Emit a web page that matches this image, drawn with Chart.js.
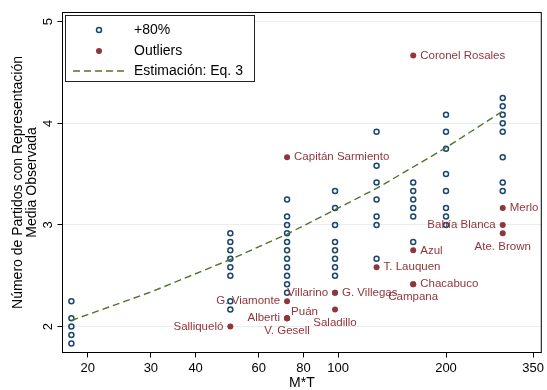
<!DOCTYPE html>
<html>
<head>
<meta charset="utf-8">
<script src="https://cdn.jsdelivr.net/npm/chart.js@4.4.0/dist/chart.umd.min.js"></script>
<style>
  html, body { margin: 0; padding: 0; background: #fff; }
  #wrap { width: 547px; height: 390px; position: relative; }
</style>
</head>
<body>
<div id="wrap"><canvas id="grafico"></canvas></div>
<script>
// valores de M*T (columnas) y N observado de los distritos comunes (+80%)
const mtValues = [18, 50, 72, 98, 128, 162, 200, 288];
const nComunes = [
  [2.25, 2.083, 2.0, 1.917, 1.833],
  [2.917, 2.833, 2.75, 2.667, 2.583, 2.5, 2.25, 2.167],
  [3.25, 3.083, 3.0, 2.917, 2.833, 2.75, 2.667, 2.583, 2.5, 2.417, 2.333],
  [3.333, 3.167, 3.0, 2.833, 2.75, 2.667, 2.583, 2.5],
  [3.917, 3.583, 3.417, 3.25, 3.083, 3.0, 2.667],
  [3.417, 3.333, 3.25, 3.167, 3.083, 2.833],
  [4.083, 3.917, 3.75, 3.5, 3.333, 3.167, 3.083, 3.0],
  [4.25, 4.167, 4.083, 4.0, 3.917, 3.667, 3.417, 3.333]
];

// outliers
const outlierNames = ["Coronel Rosales", "Capitán Sarmiento", "Merlo", "Bahía Blanca", "Ate. Brown",
  "Azul", "T. Lauquen", "Chacabuco", "Campana", "G. Villegas", "Villarino", "G. Viamonte",
  "Alberti", "Puán", "V. Gesell", "Saladillo", "Salliqueló"];
const outlierMT = [162, 72, 288, 288, 288, 162, 128, 162, 162, 98, 98, 72, 72, 72, 72, 98, 50];
const outlierN = [4.667, 3.667, 3.167, 3.0, 2.917, 2.75, 2.583, 2.417, 2.417, 2.333, 2.333, 2.25,
  2.083, 2.083, 2.083, 2.167, 2.0];
// posición de la etiqueta (reloj, como mlabpos de Stata)
const posEtiqueta = [3, 3, 3, 9, 6, 3, 3, 3, 6, 3, 9, 9, 9, 2, 6, 6, 9];

// curva estimada (Eq. 3)
const fitMT = [18, 30, 50, 72, 98, 128, 162, 200, 288];
const fitN = [2.06, 2.34, 2.66, 2.91, 3.15, 3.36, 3.57, 3.76, 4.12];

const xTicks = [20, 30, 40, 60, 80, 100, 200, 350];
const yTicks = [2, 3, 4, 5];

const azul = "#1a476f";
const rojo = "#90353b";
const verde = "#4f742a";
const fuente = '"Liberation Sans", Arial, sans-serif';

const puntosComunes = [];
mtValues.forEach((mt, i) => {
  nComunes[i].forEach(n => puntosComunes.push({ x: mt, y: n }));
});
const puntosOutliers = outlierMT.map((mt, i) => ({ x: mt, y: outlierN[i] }));
const puntosFit = fitMT.map((mt, i) => ({ x: mt, y: fitN[i] }));

const extras = {
  id: "extras",
  afterDatasetsDraw(chart) {
    const ctx = chart.ctx;
    // etiquetas de los outliers
    const meta = chart.getDatasetMeta(1);
    ctx.save();
    ctx.font = "11.5px " + fuente;
    ctx.fillStyle = rojo;
    meta.data.forEach((p, i) => {
      const pos = posEtiqueta[i];
      let x = p.x, y = p.y;
      if (pos == 3) { ctx.textAlign = "left"; ctx.textBaseline = "middle"; x += 7; }
      else if (pos == 9) { ctx.textAlign = "right"; ctx.textBaseline = "middle"; x -= 7; }
      else if (pos == 6) { ctx.textAlign = "center"; ctx.textBaseline = "middle"; y += 13; }
      else if (pos == 2) { ctx.textAlign = "left"; ctx.textBaseline = "middle"; x += 4; y -= 6; }
      ctx.fillText(outlierNames[i], x, y);
    });
    ctx.restore();
  },
  afterDraw(chart) {
    const ctx = chart.ctx;
    const a = chart.chartArea;
    ctx.save();
    // marco
    ctx.strokeStyle = "#000";
    ctx.lineWidth = 1;
    ctx.strokeRect(a.left, a.top, a.right - a.left, a.bottom - a.top);

    // etiquetas eje y (rotadas)
    const ys = chart.scales.y;
    ctx.fillStyle = "#000";
    ctx.font = "13px " + fuente;
    ctx.textAlign = "center";
    ctx.textBaseline = "middle";
    yTicks.forEach(v => {
      ctx.save();
      ctx.translate(48, ys.getPixelForValue(v));
      ctx.rotate(-Math.PI / 2);
      ctx.fillText(String(v), 0, 0);
      ctx.restore();
    });

    // títulos
    ctx.font = "14px " + fuente;
    const cy = (a.top + a.bottom) / 2;
    ctx.save();
    ctx.translate(18, cy);
    ctx.rotate(-Math.PI / 2);
    ctx.fillText("Número de Partidos con Representación", 0, 0);
    ctx.restore();
    ctx.save();
    ctx.translate(32, cy);
    ctx.rotate(-Math.PI / 2);
    ctx.fillText("Media Observada", 0, 0);
    ctx.restore();
    ctx.fillText("M*T", (a.left + a.right) / 2, 383);

    // leyenda
    ctx.fillStyle = "#fff";
    ctx.fillRect(65.5, 15.5, 189, 66);
    ctx.strokeStyle = "#222";
    ctx.strokeRect(65.5, 15.5, 189, 66);
    ctx.beginPath();
    ctx.arc(99, 30, 2.5, 0, Math.PI * 2);
    ctx.strokeStyle = azul;
    ctx.lineWidth = 1.5;
    ctx.stroke();
    ctx.beginPath();
    ctx.arc(99, 51, 3, 0, Math.PI * 2);
    ctx.fillStyle = rojo;
    ctx.fill();
    ctx.beginPath();
    ctx.setLineDash([7, 4]);
    ctx.strokeStyle = verde;
    ctx.lineWidth = 1.4;
    ctx.moveTo(73, 71);
    ctx.lineTo(128, 71);
    ctx.stroke();
    ctx.setLineDash([]);
    ctx.fillStyle = "#000";
    ctx.textAlign = "left";
    ctx.font = "14px " + fuente;
    const items = chart.data.datasets;
    ctx.fillText(items[0].label, 134, 30);
    ctx.fillText(items[1].label, 134, 51);
    ctx.fillText(items[2].label, 134, 71);
    ctx.restore();
  }
};

new Chart(document.getElementById("grafico"), {
  type: "scatter",
  plugins: [extras],
  data: {
    datasets: [
      {
        label: "+80%",
        data: puntosComunes,
        pointStyle: "circle",
        pointRadius: 2.5,
        pointBorderWidth: 1.5,
        borderColor: azul,
        backgroundColor: "rgba(255,255,255,0)",
        order: 1
      },
      {
        label: "Outliers",
        data: puntosOutliers,
        pointRadius: 3,
        pointBorderWidth: 0,
        borderColor: rojo,
        backgroundColor: rojo,
        order: 2
      },
      {
        label: "Estimación: Eq. 3",
        data: puntosFit,
        showLine: true,
        pointRadius: 0,
        borderColor: verde,
        borderWidth: 1.4,
        borderDash: [7, 4],
        fill: false,
        order: 0
      }
    ]
  },
  options: {
    responsive: true,
    maintainAspectRatio: false,
    animation: false,
    events: [],
    layout: { padding: { top: 12.5, right: 5.5, left: 0, bottom: 0 } },
    plugins: {
      legend: { display: false },
      tooltip: { enabled: false }
    },
    scales: {
      x: {
        type: "logarithmic",
        min: 17,
        max: 369,
        afterBuildTicks: (s) => { s.ticks = xTicks.map(v => ({ value: v })); },
        afterFit: (s) => { s.height = 37.5; },
        ticks: {
          color: "#000",
          font: { size: 13, family: fuente },
          padding: 3,
          maxRotation: 0,
          autoSkip: false,
          callback: (v) => String(v)
        },
        grid: { drawOnChartArea: false, tickColor: "#000", tickLength: 5 },
        border: { display: false }
      },
      y: {
        type: "linear",
        min: 1.745,
        max: 5.09,
        afterBuildTicks: (s) => { s.ticks = yTicks.map(v => ({ value: v })); },
        afterFit: (s) => { s.width = 62.5; },
        ticks: { display: false },
        grid: { color: "#e6eef1", tickColor: "#000", tickLength: 5, lineWidth: 1 },
        border: { display: false }
      }
    }
  }
});
</script>
</body>
</html>
